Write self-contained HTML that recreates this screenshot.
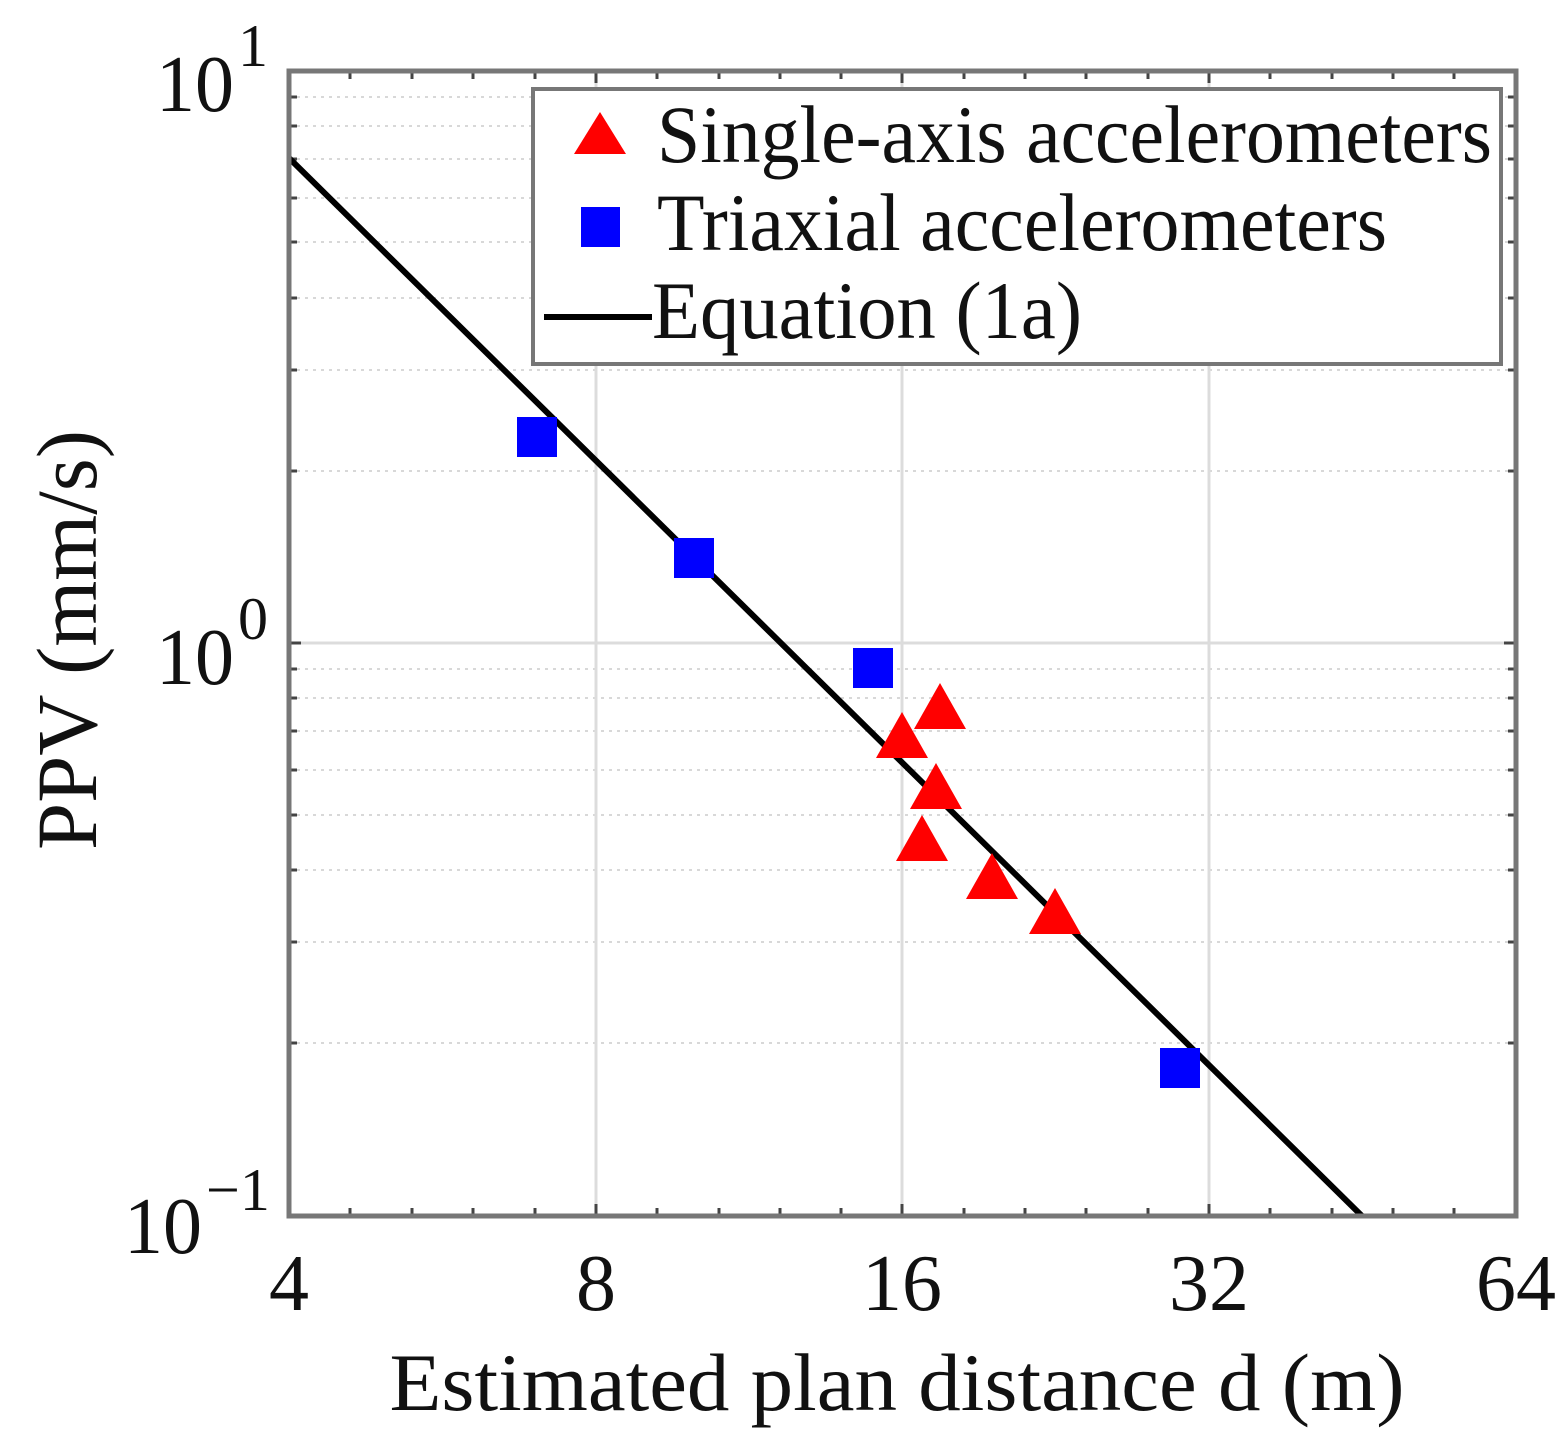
<!DOCTYPE html>
<html><head><meta charset="utf-8"><style>html,body{margin:0;padding:0;background:#fff}svg{display:block}</style></head>
<body>
<svg width="1560" height="1440" viewBox="0 0 1560 1440" xmlns="http://www.w3.org/2000/svg" font-family="Liberation Serif, serif">
<g stroke="#d8d8d8" stroke-width="2" stroke-dasharray="3,5">
<path d="M289 97H1516M289 126H1516M289 159H1516M289 198H1516M289 242H1516M289 298H1516M289 370H1516M289 471H1516"/>
<path d="M289 669H1516M289 698H1516M289 731H1516M289 770H1516M289 815H1516M289 870H1516M289 942H1516M289 1043H1516"/>
</g>
<g stroke="#dcdcdc" stroke-width="3">
<path d="M596 71V1216M902 71V1216M1209 71V1216M289 643H1516"/>
</g>
<g stroke="#444" stroke-width="3">
<path d="M350 1216v-8M412 1216v-8M473 1216v-8M535 1216v-8M596 1216v-12M657 1216v-8M719 1216v-8M780 1216v-8M841 1216v-8M902 1216v-12M964 1216v-8M1025 1216v-8M1086 1216v-8M1148 1216v-8M1209 1216v-12M1270 1216v-8M1332 1216v-8M1393 1216v-8M1454 1216v-8"/>
<path d="M350 71v8M412 71v8M473 71v8M535 71v8M596 71v12M657 71v8M719 71v8M780 71v8M841 71v8M902 71v12M964 71v8M1025 71v8M1086 71v8M1148 71v8M1209 71v12M1270 71v8M1332 71v8M1393 71v8M1454 71v8"/>
<path d="M289 97h8M289 126h8M289 159h8M289 198h8M289 242h8M289 298h8M289 370h8M289 471h8M289 643h12M289 669h8M289 698h8M289 731h8M289 770h8M289 815h8M289 870h8M289 942h8M289 1043h8"/>
<path d="M1516 97h-8M1516 126h-8M1516 159h-8M1516 198h-8M1516 242h-8M1516 298h-8M1516 370h-8M1516 471h-8M1516 643h-12M1516 669h-8M1516 698h-8M1516 731h-8M1516 770h-8M1516 815h-8M1516 870h-8M1516 942h-8M1516 1043h-8"/>
</g>
<line x1="289" y1="158" x2="1362" y2="1216" stroke="#000" stroke-width="6"/>
<g fill="#0000ff">
<rect x="517" y="417" width="40" height="40"/>
<rect x="674" y="538" width="40" height="40"/>
<rect x="853" y="648" width="40" height="40"/>
<rect x="1160" y="1048" width="40" height="40"/>
</g>
<g fill="#ff0000">
<path d="M940 683L966 729H914Z"/>
<path d="M902 712L928 758H876Z"/>
<path d="M936 763L962 809H910Z"/>
<path d="M922 815L948 861H896Z"/>
<path d="M992 853L1018 899H966Z"/>
<path d="M1055 888L1081 934H1029Z"/>
</g>
<rect x="289" y="71" width="1227" height="1145" fill="none" stroke="#777" stroke-width="5"/>
<rect x="533" y="89" width="968" height="275" fill="#fff" stroke="#777" stroke-width="4"/>
<path d="M600 112L626 154H574Z" fill="#ff0000"/>
<rect x="581" y="207" width="39" height="40" fill="#0000ff"/>
<line x1="544" y1="317" x2="652" y2="317" stroke="#000" stroke-width="6"/>
<g font-size="82" fill="#111">
<text x="657" y="162" textLength="835" lengthAdjust="spacingAndGlyphs">Single-axis accelerometers</text>
<text x="657" y="250" textLength="730" lengthAdjust="spacingAndGlyphs">Triaxial accelerometers</text>
<text x="652" y="338" textLength="430" lengthAdjust="spacingAndGlyphs">Equation (1a)</text>
</g>
<g font-size="80" fill="#111" text-anchor="middle">
<text x="289" y="1310">4</text>
<text x="596" y="1310">8</text>
<text x="902" y="1310">16</text>
<text x="1209" y="1310">32</text>
<text x="1516" y="1310">64</text>
</g>
<g font-size="80" fill="#111">
<text x="156" y="111" textLength="78" lengthAdjust="spacingAndGlyphs">10</text><text x="238" y="66" font-size="60">1</text>
<text x="156" y="684" textLength="78" lengthAdjust="spacingAndGlyphs">10</text><text x="238" y="639" font-size="60">0</text>
<text x="124" y="1253" textLength="78" lengthAdjust="spacingAndGlyphs">10</text><text x="206" y="1210" font-size="60">−1</text>
</g>
<text x="897" y="1410" font-size="82" fill="#111" text-anchor="middle" textLength="1015" lengthAdjust="spacingAndGlyphs">Estimated plan distance d (m)</text>
<text transform="translate(96,640) rotate(-90)" font-size="86" fill="#111" text-anchor="middle" textLength="420" lengthAdjust="spacingAndGlyphs">PPV (mm/s)</text>
</svg>
</body></html>
